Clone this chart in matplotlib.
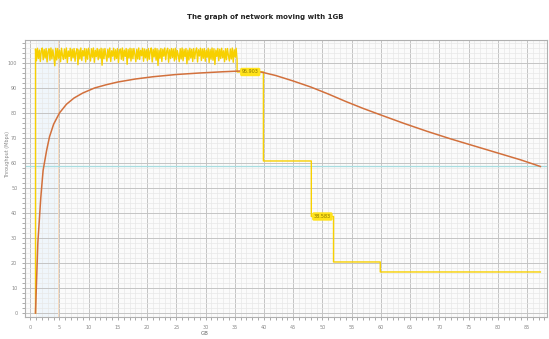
import numpy as np
import matplotlib
matplotlib.use("Agg")
import matplotlib.pyplot as plt
from matplotlib.ticker import MultipleLocator

# ---- data ----
title = "The graph of network moving with 1GB"
xlabel = "GB"
ylabel = "Throughput (Mbps)"
x_ticks = [0, 5, 10, 15, 20, 25, 30, 35, 40, 45, 50, 55, 60, 65, 70, 75, 80, 85]
y_ticks = [0, 10, 20, 30, 40, 50, 60, 70, 80, 90, 100]

# noisy high-throughput phase (sampled evenly between start and end time)
hi_start, hi_end = 0.9, 35.4
hi_vals = [105.6, 100.9, 105.9, 101.8, 105.2, 100.6, 104.9, 106.0, 101.3, 105.4,
           102.0, 105.8, 100.4, 104.6, 105.7, 101.1, 106.0, 101.6, 105.3, 102.4,
           98.9, 105.9, 101.2, 105.8, 101.9, 105.1, 100.5, 105.9, 103.0, 101.4,
           105.6, 101.8, 106.0, 100.2, 104.8, 102.6, 105.9, 100.9, 105.5, 102.1,
           105.8, 100.7, 104.4, 105.7, 99.3, 105.3, 101.6, 106.0, 101.0, 105.0,
           102.8, 105.8, 100.4, 105.6, 101.5, 105.9, 103.2, 100.8, 105.7, 102.3,
           106.0, 100.3, 105.1, 102.5, 105.8, 101.3, 105.4, 101.9, 105.9, 99.1,
           105.6, 101.7, 105.8, 103.0, 100.7, 105.5, 102.2, 106.0, 100.6, 104.9,
           102.7, 105.9, 101.2, 105.3, 101.8, 105.8, 100.2, 104.7, 105.6, 101.5,
           106.0, 101.0, 105.2, 102.6, 105.8, 99.5, 105.4, 102.0, 105.9, 100.8,
           105.7, 101.7, 105.8, 103.4, 100.5, 105.5, 101.6, 106.0, 101.4, 105.1,
           102.9, 105.9, 100.7, 105.6, 102.1, 105.3, 100.9, 105.8, 101.5, 104.9,
           106.0, 100.4, 105.4, 102.4, 105.9, 101.1, 105.7, 99.0, 105.2, 101.9,
           105.8, 100.6, 105.5, 102.7, 106.0, 101.3, 104.8, 105.9, 100.3, 105.3,
           101.8, 105.8, 102.2, 105.6, 100.8, 105.9, 101.4, 105.0, 103.1, 100.5,
           105.7, 101.6, 106.0, 100.9, 105.4, 102.5, 105.8, 99.7, 105.2, 101.2,
           105.9, 102.0, 105.5, 100.6, 105.8, 101.7, 104.7, 106.0, 100.4, 105.3,
           102.8, 105.9, 101.0, 105.6, 101.9, 105.8, 100.7, 105.1, 102.3, 105.9,
           100.2, 105.4, 101.5, 106.0, 101.1, 105.7, 99.4, 105.2, 102.6, 105.8,
           100.9, 105.5, 101.8, 105.9, 102.1, 104.9, 100.5, 105.7, 101.3, 105.8,
           103.0, 100.8, 105.6, 101.6, 106.0, 100.3, 105.3, 102.4, 105.9, 101.2]

# stepped phase after the high phase: (start time, value)
step_x = [35.4, 39.9, 48.1, 51.9, 59.9, 87.3]
step_y = [96.4, 60.8, 38.6, 20.4, 16.4, 16.4]
step_labels = ["95.903", "38.583"]

# running average curve
avg_x = [0.9, 1.3, 1.8, 2.2, 2.8, 3.3, 4.0, 5.0, 6.2, 7.5, 9.0, 11.0, 13.0, 15.0,
         18.0, 21.0, 25.0, 29.0, 33.0, 36.0, 39.5, 42.0, 45.0, 48.0, 51.0, 54.0,
         57.0, 60.0, 64.0, 68.0, 72.0, 76.0, 80.0, 84.0, 87.3]
avg_y = [0.0, 28.0, 46.0, 57.0, 65.0, 70.5, 75.5, 80.0, 83.5, 86.0, 88.0, 90.0,
         91.3, 92.4, 93.6, 94.5, 95.4, 96.0, 96.5, 96.8, 96.4, 95.0, 92.8, 90.4,
         87.6, 84.6, 81.8, 79.2, 75.8, 72.6, 69.6, 66.8, 64.0, 61.2, 58.6]

mean_level = 58.6

# ---- plot ----
fig = plt.figure(figsize=(5.49, 3.39), dpi=100)
ax = fig.add_axes([0.0455, 0.065, 0.9505, 0.817])
ax.set_facecolor("#fbfbfb")

ax.set_xlim(-0.9, 88.4)
ax.set_ylim(-1.6, 109.2)

ax.xaxis.set_minor_locator(MultipleLocator(1))
ax.yaxis.set_minor_locator(MultipleLocator(2))
ax.set_xticks(x_ticks)
ax.set_yticks(y_ticks)
ax.grid(which="major", color="#c4c4c4", linewidth=0.7)
ax.grid(which="minor", color="#e8e8e8", linewidth=0.5)
ax.set_axisbelow(True)

ax.tick_params(axis="both", which="both", labelsize=3.5, colors="#888888",
               length=2, width=0.5, direction="out")
for s in ax.spines.values():
    s.set_color("#b0b0b0")
    s.set_linewidth(0.8)

# faint highlight region near start
ax.axvspan(1.3, 4.8, color="#eaf4fb", alpha=0.6, zorder=0.5, lw=0)
ax.axvline(4.8, color="#f8dcc0", lw=0.7, zorder=0.6)

# mean line
ax.axhline(mean_level, color="#a8dde0", lw=0.9, zorder=2)

# yellow throughput trace
hi_x = np.linspace(hi_start, hi_end, len(hi_vals))
yx = [hi_start] + list(hi_x)
yy = [0.0] + hi_vals
for i in range(len(step_x) - 1):
    yx += [step_x[i], step_x[i + 1]]
    yy += [step_y[i], step_y[i]]
ax.plot(yx, yy, color="#f7d000", lw=1.0, zorder=3)

# running average
ax.plot(avg_x, avg_y, color="#d2703c", lw=1.1, zorder=4)

# value labels on steps
for k, idx in enumerate([0, 2]):
    xm = (step_x[idx] + step_x[idx + 1]) / 2
    ax.text(xm, step_y[idx], step_labels[k], fontsize=3.5, color="#8a7600",
            ha="center", va="center", zorder=5,
            bbox=dict(boxstyle="round,pad=0.35", fc="#ffe21a", ec="none"))

fig.text(0.483, 0.95, title, fontsize=5, fontweight="bold", ha="center",
         va="center", color="#222222")
fig.text(0.373, 0.017, xlabel, fontsize=4, ha="center", va="center",
         color="#666666")
fig.text(0.014, 0.545, ylabel, fontsize=3.5, rotation=90, ha="center",
         va="center", color="#888888")

fig.savefig("out.png", dpi=100)
